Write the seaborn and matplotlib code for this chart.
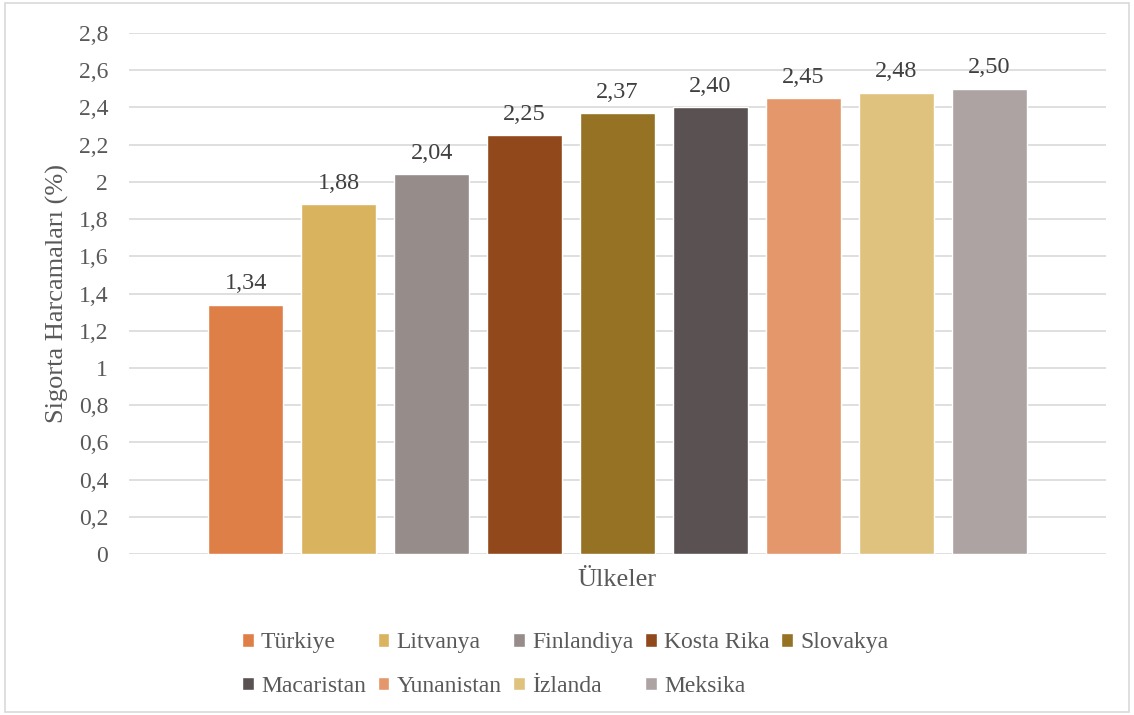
import matplotlib
matplotlib.use("Agg")
import matplotlib.pyplot as plt
from matplotlib.patches import Rectangle
from matplotlib.ticker import FuncFormatter
import seaborn as sns
import pandas as pd

countries = ["Türkiye", "Litvanya", "Finlandiya", "Kosta Rika", "Slovakya",
             "Macaristan", "Yunanistan", "İzlanda", "Meksika"]
values = [1.34, 1.88, 2.04, 2.25, 2.37, 2.40, 2.45, 2.48, 2.50]
colors = ["#DE7F48", "#D9B35E", "#968C8A", "#91481A", "#957224",
          "#5A5252", "#E3976B", "#E0C27F", "#ADA3A3"]
category = "Ülkeler"
y_label = "Sigorta Harcamaları (%)"
y_ticks = [0, 0.2, 0.4, 0.6, 0.8, 1, 1.2, 1.4, 1.6, 1.8, 2, 2.2, 2.4, 2.6, 2.8]

df = pd.DataFrame({"kategori": [category] * len(countries),
                   "ulke": countries, "deger": values})

sns.set_theme(style="white")
plt.rcParams["font.family"] = ["Liberation Serif", "DejaVu Serif"]

fig = plt.figure(figsize=(11.34, 7.15), dpi=100)
ax = fig.add_axes([0.1138, 0.2252, 0.8615, 0.7286])

sns.barplot(data=df, x="kategori", y="deger", hue="ulke",
            hue_order=countries, palette=colors, width=0.8, gap=0.2,
            saturation=1, ax=ax, legend=True)

ax.set_xlim(-0.467, 0.467)
ax.set_ylim(0, 2.8)
ax.set_yticks(y_ticks)

def comma_fmt(v, pos=None):
    s = f"{v:.1f}".rstrip("0").rstrip(".")
    return s.replace(".", ",")

ax.yaxis.set_major_formatter(FuncFormatter(comma_fmt))
ax.grid(axis="y", color="#D9D9D9", linewidth=1.2)
ax.set_axisbelow(True)
for s in ax.spines.values():
    s.set_visible(False)
ax.tick_params(axis="both", length=0, colors="#595959")
ax.tick_params(axis="y", labelsize=17, pad=15)
ax.tick_params(axis="x", labelsize=19, pad=11)
ax.set_xlabel("")
ax.set_ylabel(y_label, fontsize=19, color="#595959", labelpad=7)

for cont in ax.containers:
    ax.bar_label(cont, labels=[f"{v:.2f}".replace(".", ",") for v in cont.datavalues],
                 padding=7.5, fontsize=17.5, color="#404040")

handles, labels = ax.get_legend_handles_labels()
ax.get_legend().remove()
order = [0, 5, 1, 6, 2, 7, 3, 8, 4]
leg = fig.legend([handles[i] for i in order], [labels[i] for i in order],
                 ncol=5, loc="center", bbox_to_anchor=(0.4985, 0.0705),
                 frameon=False, fontsize=17, handlelength=0.5, handleheight=0.5,
                 handletextpad=0.3, columnspacing=0.5, labelspacing=0.95,
                 labelcolor="#595959")

fig.patches.append(Rectangle((0.004, 0.004), 0.992, 0.992, transform=fig.transFigure,
                             fill=False, edgecolor="#D9D9D9", linewidth=1.2))

fig.savefig("out.png", dpi=100)
